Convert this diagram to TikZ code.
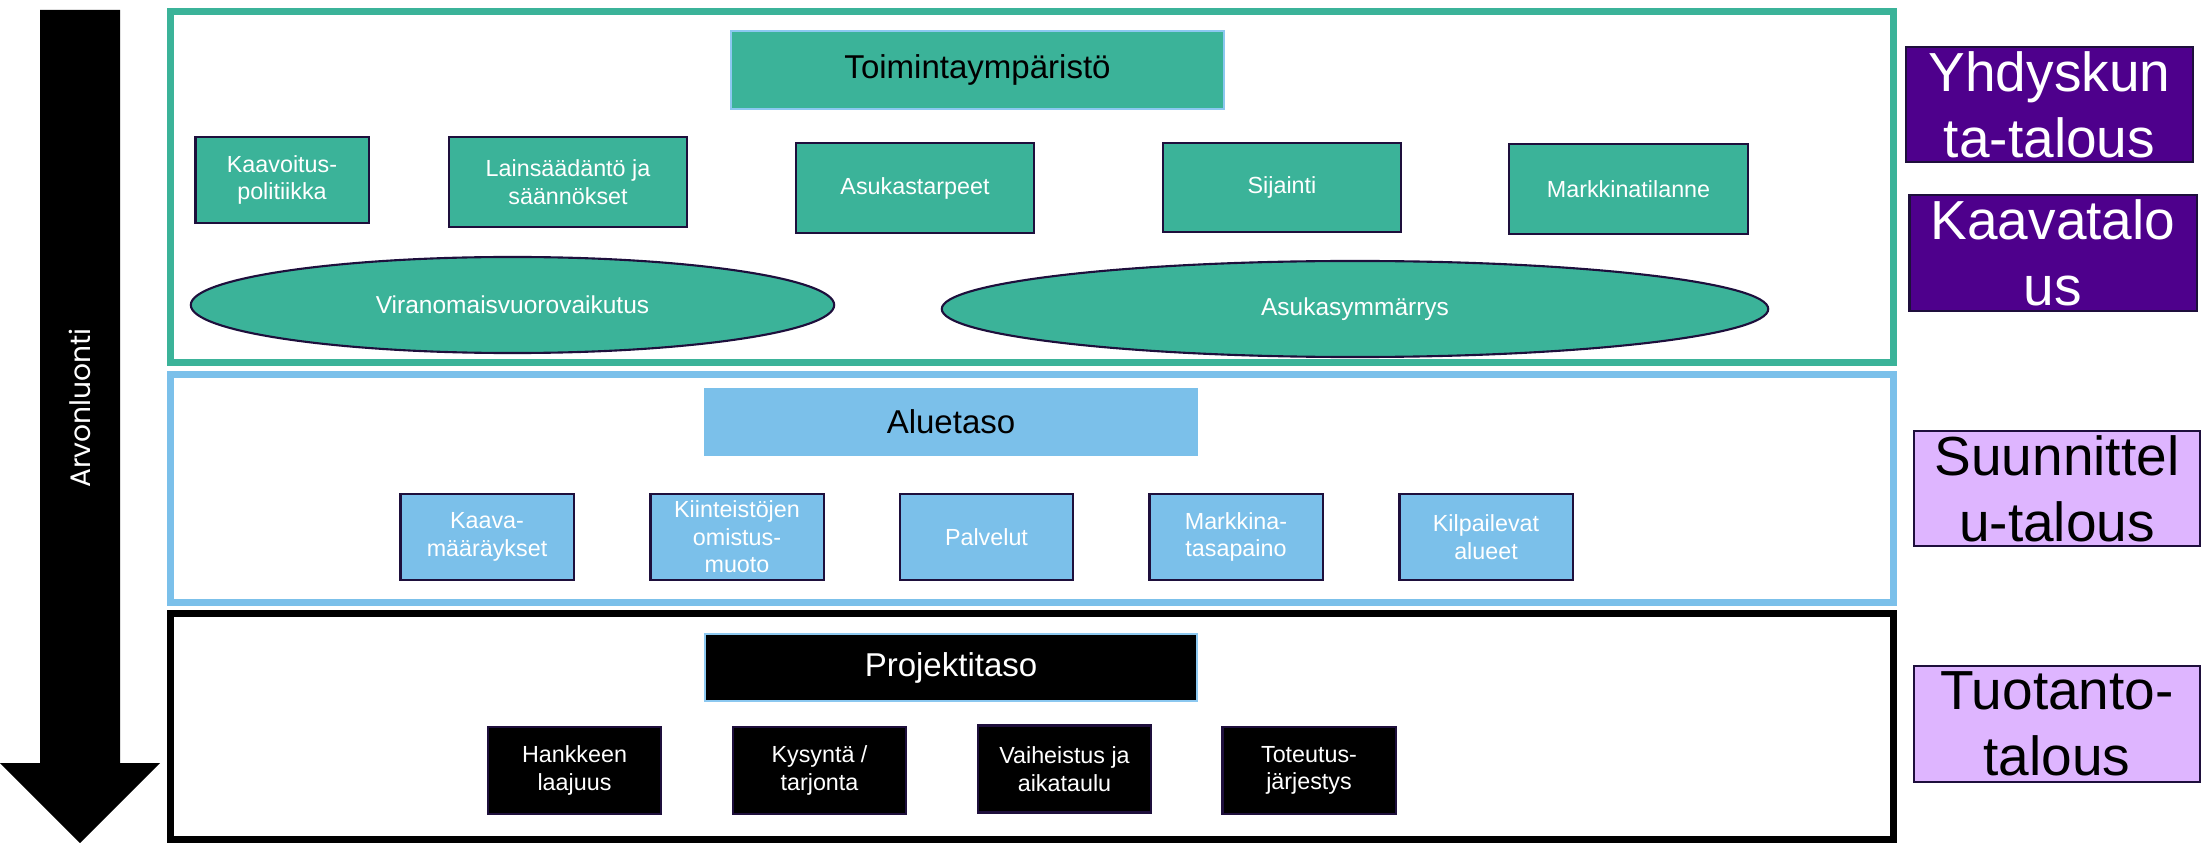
\documentclass[tikz,border=0pt]{standalone}
\usepackage{fontspec}
\setmainfont{Liberation Sans}
\newfontfamily\arvfont{Poppins}
\usetikzlibrary{shapes.geometric}
\newcommand{\fsz}[2]{\fontsize{#1}{#2}\selectfont}
\definecolor{teal1}{RGB}{59,179,153}
\definecolor{lblue}{RGB}{123,192,234}
\definecolor{tborder}{RGB}{140,200,240}
\definecolor{dpurple}{RGB}{78,0,140}
\definecolor{lpurple}{RGB}{222,181,255}
\definecolor{navy}{RGB}{30,15,60}
\tikzset{
  frame/.style={draw, line width=2pt, inner sep=0, fill=white},
  smallbox/.style={draw=navy, line width=0.6pt, inner sep=0, align=center, text=white,
    font=\fsz{6.63pt}{7.8pt}, minimum width=1.73cm},
  gbox/.style={smallbox, fill=teal1},
  bbox/.style={smallbox, fill=lblue, minimum height=0.86cm},
  kbox/.style={smallbox, fill=black, minimum height=0.87cm},
  titlebox/.style={inner sep=0, font=\fsz{9.39pt}{11pt}},
  ell/.style={ellipse, draw=navy, line width=0.6pt, fill=teal1, inner sep=0, text=white,
    font=\fsz{6.97pt}{8pt}, minimum height=0.96cm},
  bigbox/.style={draw=navy, line width=0.6pt, inner sep=0, align=center,
    font=\fsz{15.65pt}{18.8pt}},
}
\begin{document}
\begin{tikzpicture}[x=0.01cm, y=-0.01cm]
\useasboundingbox (0,0) rectangle (2201,843);
% arrow
\fill[black] (40,10) -- (120,10) -- (120,763) -- (160,763) -- (80,843) -- (0,763) -- (40,763) -- cycle;
\node[rotate=90, text=white, inner sep=0, font=\arvfont\fsz{8pt}{9pt}] (arvo) at (80,408) {Arvonluonti};
% frames
\node[frame, draw=teal1, minimum width=17.22cm, minimum height=3.505cm] (frameA) at (1032,186.75) {};
\node[frame, draw=lblue, minimum width=17.22cm, minimum height=2.28cm] (frameB) at (1032,488.5) {};
\node[frame, draw=black, minimum width=17.22cm, minimum height=2.255cm] (frameC) at (1032,726.75) {};
% level 1
\node[titlebox, fill=teal1, draw=tborder, line width=0.6pt, minimum width=4.93cm, minimum height=0.78cm] (toim) at (977.5,70) {Toimintaympäristö};
\node[gbox, minimum height=0.86cm] (kaavoitus) at (282,180) {Kaavoitus-\\politiikka};
\node[gbox, minimum width=2.38cm, minimum height=0.90cm] (lains) at (568,182) {Lainsäädäntö ja\\säännökset};
\node[gbox, minimum width=2.38cm, minimum height=0.90cm] (asuk) at (915,188) {Asukastarpeet};
\node[gbox, minimum width=2.38cm, minimum height=0.89cm] (sij) at (1282,187.5) {Sijainti};
\node[gbox, minimum width=2.39cm, minimum height=0.90cm] (mark) at (1628.5,189) {Markkinatilanne};
\node[ell, minimum width=6.43cm] (viran) at (512.5,305) {Viranomaisvuorovaikutus};
\node[ell, minimum width=8.26cm] (asym) at (1355,309) {Asukasymmärrys};
% level 2
\node[titlebox, fill=lblue, minimum width=4.94cm, minimum height=0.68cm] (alue) at (951,422) {Aluetaso};
\node[bbox] (kmaar) at (487,537) {Kaava-\\määräykset};
\node[bbox] (kiint) at (737,537) {Kiinteistöjen\\omistus-\\muoto};
\node[bbox] (palv) at (986.5,537) {Palvelut};
\node[bbox] (mtas) at (1236,537) {Markkina-\\tasapaino};
\node[bbox] (kilp) at (1486,537) {Kilpailevat\\alueet};
% level 3
\node[titlebox, fill=black, text=white, draw=tborder, line width=0.6pt, minimum width=4.92cm, minimum height=0.67cm] (proj) at (951,667.5) {Projektitaso};
\node[kbox] (hank) at (574.5,770.5) {Hankkeen\\laajuus};
\node[kbox] (kys) at (819.5,770.5) {Kysyntä /\\tarjonta};
\node[kbox] (vaih) at (1064.5,769) {Vaiheistus ja\\aikataulu};
\node[kbox] (tot) at (1309,770.5) {Toteutus-\\järjestys};
% right labels
\node[bigbox, fill=dpurple, text=white, minimum width=2.87cm, minimum height=1.15cm] (yhd) at (2049.5,104.5) {Yhdyskun\\ta-talous};
\node[bigbox, fill=dpurple, text=white, minimum width=2.87cm, minimum height=1.16cm] (kaavat) at (2053,253) {Kaavatalo\\us};
\node[bigbox, fill=lpurple, text=black, minimum width=2.86cm, minimum height=1.15cm] (suun) at (2057,488.5) {Suunnittel\\u-talous};
\node[bigbox, fill=lpurple, text=black, minimum width=2.86cm, minimum height=1.16cm] (tuot) at (2057,724) {Tuotanto-\\talous};
\end{tikzpicture}
\end{document}
